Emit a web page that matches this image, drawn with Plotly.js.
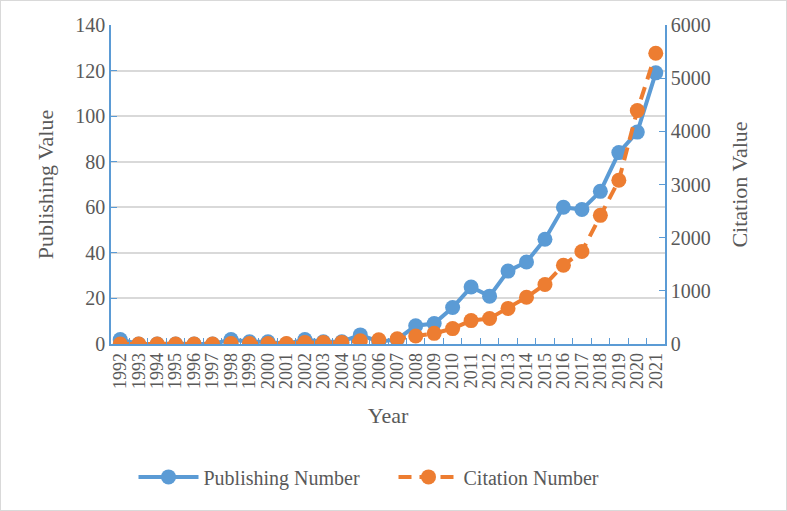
<!DOCTYPE html>
<html>
<head>
<meta charset="utf-8">
<script src="https://cdn.plot.ly/plotly-3.0.1.min.js"></script>
<style>
  body { margin: 0; background: #fff; }
  #graph { width: 785px; height: 509px; border: 1px solid #d9d9d9; }
</style>
</head>
<body>
<div id="graph"></div>
<script>
// Years on the category axis
var years = ['1992', '1993', '1994', '1995', '1996', '1997', '1998', '1999', '2000', '2001',
             '2002', '2003', '2004', '2005', '2006', '2007', '2008', '2009', '2010', '2011',
             '2012', '2013', '2014', '2015', '2016', '2017', '2018', '2019', '2020', '2021'];

// Papers published per year (left axis)
var publishing = [2, 0, 0, 0, 0, 0, 2, 1, 1, 0,
                  2, 1, 1, 4, 1, 2, 8, 9, 16, 25,
                  21, 32, 36, 46, 60, 59, 67, 84, 93, 119];

// Citations per year (right axis)
var citation = [0, 0, 0, 0, 0, 0, 10, 10, 10, 10,
                30, 30, 30, 60, 80, 100, 150, 200, 290, 440,
                480, 670, 880, 1120, 1480, 1740, 2420, 3080, 4390, 5470];

var blue = '#5B9BD5';
var orange = '#ED7D31';
var grey = '#595959';
var serif = '"Liberation Serif", "Times New Roman", serif';

var data = [
    {   // Publishing Number
        x: years,
        y: publishing,
        name: 'Publishing Number',
        mode: 'lines+markers',
        line: {color: blue, width: 4},
        marker: {color: blue, size: 15}
    },
    {   // Citation Number, on the right axis
        x: years,
        y: citation,
        yaxis: 'y2',
        name: 'Citation Number',
        mode: 'lines+markers',
        line: {color: orange, width: 4, dash: '13px,8px'},
        marker: {color: orange, size: 15}
    }];

var layout = {
    width: 785,
    height: 509,
    margin: {l: 110, r: 121, t: 24, b: 166},
    paper_bgcolor: '#fff',
    plot_bgcolor: '#fff',
    font: {family: serif, color: grey, size: 19},
    xaxis: {
        type: 'category',
        range: [-0.5, 29.5],
        tickmode: 'linear',
        dtick: 1,
        title: {text: 'Year', font: {family: serif, size: 22, color: grey}, standoff: 20},
        tickangle: -90,
        tickfont: {family: serif, size: 18, color: grey},
        showline: true,
        linecolor: blue,
        linewidth: 1.5,
        ticks: 'inside',
        tickson: 'boundaries',
        ticklen: 6,
        tickcolor: blue,
        showgrid: false,
        zeroline: false,
        automargin: false
    },
    yaxis: {
        range: [0, 140],
        dtick: 20,
        title: {text: 'Publishing Value', font: {family: serif, size: 22, color: grey}, standoff: 16},
        tickfont: {family: serif, size: 20, color: grey},
        showline: true,
        linecolor: blue,
        linewidth: 1.5,
        ticks: 'inside',
        ticklen: 6,
        tickcolor: blue,
        gridcolor: '#d9d9d9',
        gridwidth: 1.5,
        zeroline: false,
        automargin: false
    },
    yaxis2: {
        range: [0, 6000],
        dtick: 1000,
        overlaying: 'y',
        side: 'right',
        title: {text: 'Citation Value', font: {family: serif, size: 22, color: grey}, standoff: 22},
        tickfont: {family: serif, size: 20, color: grey},
        showline: true,
        linecolor: blue,
        linewidth: 1.5,
        ticks: 'inside',
        ticklen: 6,
        tickcolor: blue,
        showgrid: false,
        zeroline: false,
        automargin: false
    },
    showlegend: true,
    legend: {
        orientation: 'h',
        xref: 'container',
        x: 0.5,
        xanchor: 'center',
        yref: 'container',
        y: 0.065,
        yanchor: 'middle',
        font: {family: serif, size: 20, color: grey},
        itemwidth: 60,
        entrywidth: 185
    }
};

Plotly.newPlot('graph', data, layout, {displayModeBar: false});
</script>
</body>
</html>
